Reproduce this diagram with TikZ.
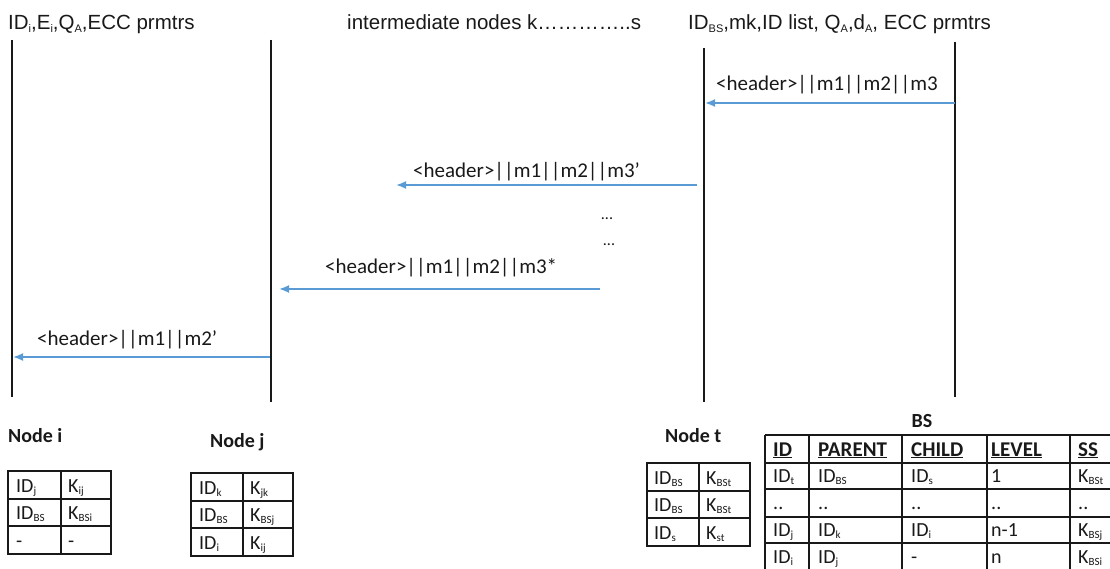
\documentclass[tikz,border=0pt]{standalone}
\usepackage{fontspec}
\setmainfont{Carlito}
\newfontfamily\arialf{Liberation Sans}
\usetikzlibrary{arrows.meta}
\definecolor{msgblue}{RGB}{91,155,213}
\definecolor{ink}{RGB}{25,25,25}
% small subscript that sits at (just under) the baseline
\newcommand\lowsub[1]{\raisebox{-0.25ex}{\fontsize{11}{11}\selectfont #1}}

\begin{document}
\begin{tikzpicture}[x=1pt,y=-1pt,
  lifeline/.style={line width=2.2pt, draw=ink},
  msg/.style={line width=1.8pt, draw=msgblue, -{Latex[length=10pt,width=8pt]}},
  msgtext/.style={font=\fontsize{21}{24}\selectfont, anchor=base west, inner sep=0pt, text=ink},
  toptext/.style={font=\arialf\fontsize{20.5}{24}\selectfont, anchor=base west, inner sep=0pt, text=ink},
  cell/.style={font=\fontsize{20}{24}\selectfont, anchor=base west, inner sep=0pt, text=ink},
  headcell/.style={font=\bfseries\fontsize{21}{24}\selectfont, anchor=base west, inner sep=0pt, text=ink},
  title/.style={font=\bfseries\fontsize{20}{24}\selectfont, anchor=base west, inner sep=0pt, text=ink},
  grid/.style={line width=1.5pt, draw=ink},
]
\useasboundingbox (0,0) rectangle (1110,569);
\clip (0,0) rectangle (1110,569);

% ---- parameter labels above the lifelines
\node[toptext] (lbl i) at (8,30) {ID\lowsub{i},E\lowsub{i},Q\lowsub{A},ECC prmtrs};
\node[toptext] (lbl k) at (347,30) {intermediate nodes k…………..s};
\node[toptext] (lbl bs) at (688,30) {ID\lowsub{BS},mk,ID list, Q\lowsub{A},d\lowsub{A}, ECC prmtrs};

% ---- lifelines
\coordinate (i top) at (12,40);   \coordinate (i bot) at (12,397);
\coordinate (j top) at (271,40);  \coordinate (j bot) at (271,402);
\coordinate (t top) at (704,48);  \coordinate (t bot) at (704,402);
\coordinate (bs top) at (955,42); \coordinate (bs bot) at (955,397);
\draw[lifeline] (i top) -- (i bot);
\draw[lifeline] (j top) -- (j bot);
\draw[lifeline] (t top) -- (t bot);
\draw[lifeline] (bs top) -- (bs bot);

% ---- messages
\coordinate (m1 from) at (955,103); \coordinate (m1 to) at (705,103);
\coordinate (m2 from) at (697,185); \coordinate (m2 to) at (396,185);
\coordinate (m3 from) at (600,289); \coordinate (m3 to) at (279,289);
\coordinate (m4 from) at (270,357); \coordinate (m4 to) at (13,357);
\draw[msg] (m1 from) -- (m1 to);
\draw[msg] (m2 from) -- (m2 to);
\draw[msg] (m3 from) -- (m3 to);
\draw[msg] (m4 from) -- (m4 to);
\node[msgtext] (txt1) at (716,91) {<header>||m1||m2||m3};
\node[msgtext] (txt2) at (413,178) {<header>||m1||m2||m3’};
\node[msgtext] (txt3) at (325,273) {<header>||m1||m2||m3*};
\node[msgtext] (txt4) at (37,345) {<header>||m1||m2’};

% ---- elided intermediate hops
\node[font=\fontsize{16}{16}\selectfont, inner sep=0pt, text=ink] (dots1) at (607,219) {...};
\node[font=\fontsize{16}{16}\selectfont, inner sep=0pt, text=ink] (dots2) at (609,245) {...};

% ---- Node i table
\node[title] (ti) at (8,442) {Node i};
\draw[grid] (8,471) rectangle (111,554);
\draw[grid] (61,471) -- (61,554) (8,499) -- (111,499) (8,526) -- (111,526);
\node[cell] at (16,492) {ID\lowsub{j}};   \node[cell] at (68,492) {K\lowsub{ij}};
\node[cell] at (16,519) {ID\lowsub{BS}};  \node[cell] at (68,519) {K\lowsub{BSi}};
\node[cell] at (16,547) {-};              \node[cell] at (68,547) {-};

% ---- Node j table
\node[title] (tj) at (210,447) {Node j};
\draw[grid] (191,473) rectangle (293,556);
\draw[grid] (243,473) -- (243,556) (191,501) -- (293,501) (191,528) -- (293,528);
\node[cell] at (199,494) {ID\lowsub{k}};  \node[cell] at (250,494) {K\lowsub{jk}};
\node[cell] at (199,521) {ID\lowsub{BS}}; \node[cell] at (250,521) {K\lowsub{BSj}};
\node[cell] at (199,549) {ID\lowsub{i}};  \node[cell] at (250,549) {K\lowsub{ij}};

% ---- Node t table
\node[title] (tt) at (665,442) {Node t};
\draw[grid] (647,463) rectangle (750,546);
\draw[grid] (699,463) -- (699,546) (647,491) -- (750,491) (647,518) -- (750,518);
\node[cell] at (654,484) {ID\lowsub{BS}}; \node[cell] at (706,484) {K\lowsub{BSt}};
\node[cell] at (654,511) {ID\lowsub{BS}}; \node[cell] at (706,511) {K\lowsub{BSt}};
\node[cell] at (654,539) {ID\lowsub{s}};  \node[cell] at (706,539) {K\lowsub{st}};

% ---- BS routing table
\node[title, anchor=base] (tbs) at (922,427) {BS};
\draw[grid] (765,435) -- (1120,435) (765,463) -- (1120,463) (765,489) -- (1120,489)
            (765,517) -- (1120,517) (765,543) -- (1120,543);
\foreach \x in {765,809,902,987,1070} \draw[grid] (\x,435) -- (\x,580);
\node[headcell] at (773,456) {\underline{ID}};
\node[headcell] at (818,456) {\underline{PARENT}};
\node[headcell] at (911,456) {\underline{CHILD}};
\node[headcell] at (991,456) {\underline{LEVEL}};
\node[headcell] at (1078,456) {\underline{SS}};
\node[cell] at (773,482) {ID\lowsub{t}};  \node[cell] at (818,482) {ID\lowsub{BS}};
\node[cell] at (911,482) {ID\lowsub{s}};  \node[cell] at (991,482) {1};
\node[cell] at (1078,482) {K\lowsub{BSt}};
\node[cell] at (773,509) {..};  \node[cell] at (818,509) {..};
\node[cell] at (911,509) {..};  \node[cell] at (991,509) {..};
\node[cell] at (1078,509) {..};
\node[cell] at (773,536) {ID\lowsub{j}};  \node[cell] at (818,536) {ID\lowsub{k}};
\node[cell] at (911,536) {ID\lowsub{i}};  \node[cell] at (991,536) {n-1};
\node[cell] at (1078,536) {K\lowsub{BSj}};
\node[cell] at (773,563) {ID\lowsub{i}};  \node[cell] at (818,563) {ID\lowsub{j}};
\node[cell] at (911,563) {-};             \node[cell] at (991,563) {n};
\node[cell] at (1078,563) {K\lowsub{BSi}};
\end{tikzpicture}
\end{document}
